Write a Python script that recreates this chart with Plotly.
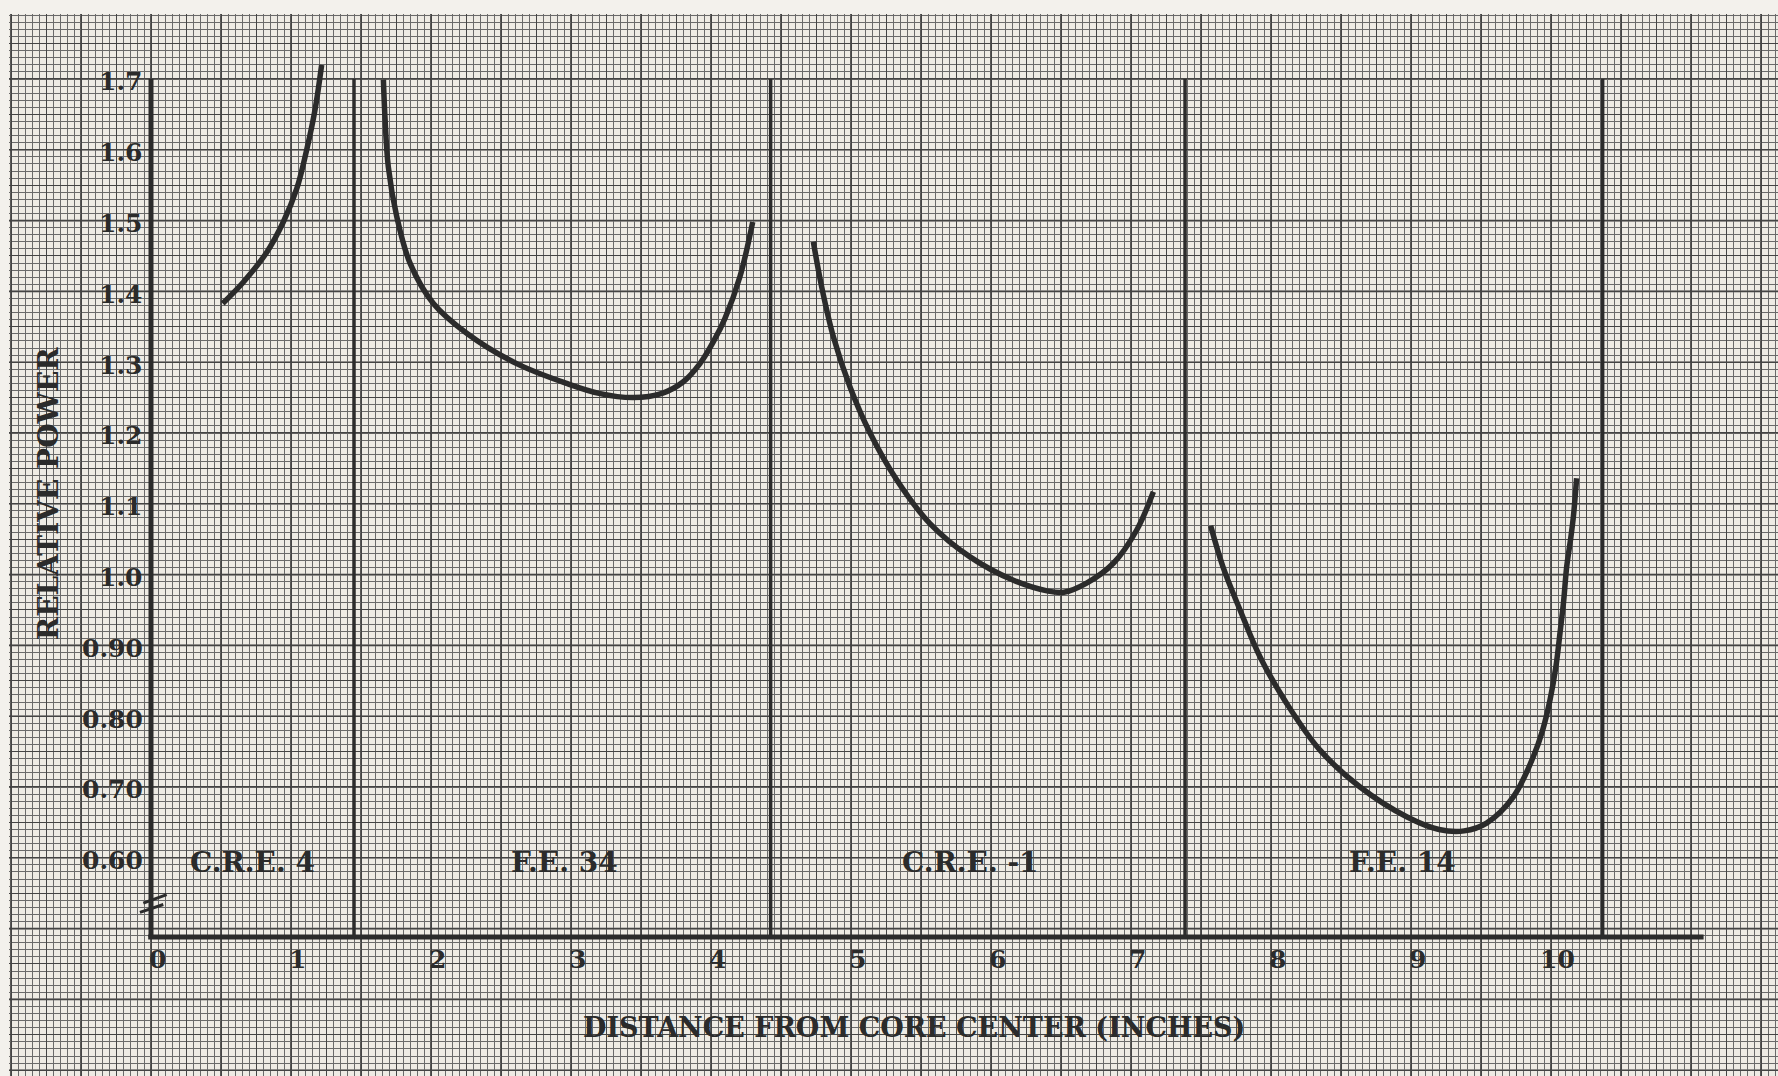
import numpy as np
import plotly.graph_objects as go

# ---------------- data ----------------
cre4_x = [0.512, 0.659, 0.826, 0.945, 1.041, 1.112, 1.171, 1.219]
cre4_y = [1.383, 1.413, 1.455, 1.498, 1.545, 1.600, 1.656, 1.720]

fe34_x = [1.660, 1.671, 1.695, 1.755, 1.850, 2.017, 2.255, 2.612, 2.969, 3.200, 3.445, 3.650, 3.800, 3.921, 4.020, 4.100, 4.207, 4.298]
fe34_y = [1.699, 1.647, 1.576, 1.506, 1.440, 1.383, 1.341, 1.298, 1.270, 1.256, 1.250, 1.256, 1.272, 1.298, 1.330, 1.362, 1.421, 1.498]

cre1_x = [4.731, 4.790, 4.874, 4.993, 5.136, 5.326, 5.564, 5.850, 6.160, 6.400, 6.520, 6.683, 6.874, 7.041, 7.160]
cre1_y = [1.470, 1.407, 1.336, 1.265, 1.200, 1.134, 1.072, 1.025, 0.992, 0.977, 0.975, 0.988, 1.016, 1.063, 1.117]

fe14_x = [7.569, 7.657, 7.779, 7.921, 8.112, 8.350, 8.636, 8.969, 9.200, 9.380, 9.540, 9.731, 9.874, 9.940, 9.993, 10.035, 10.064, 10.090, 10.112, 10.140, 10.160, 10.183]
fe14_y = [1.069, 1.011, 0.950, 0.884, 0.818, 0.752, 0.700, 0.658, 0.640, 0.638, 0.649, 0.686, 0.743, 0.780, 0.823, 0.870, 0.917, 0.962, 1.011, 1.050, 1.082, 1.136]

divider_x = [1.450, 4.426, 7.386, 10.369]

section_labels = ["C.R.E. 4", "F.E. 34", "C.R.E. -1", "F.E. 14"]
section_label_x = [0.725, 2.95, 5.85, 8.94]
section_label_y = 0.594

x_tick_vals = [0, 1, 2, 3, 4, 5, 6, 7, 8, 9, 10]
x_tick_text = ["0", "1", "2", "3", "4", "5", "6", "7", "8", "9", "10"]
y_tick_vals = [1.7, 1.6, 1.5, 1.4, 1.3, 1.2, 1.1, 1.0, 0.9, 0.8, 0.7, 0.6]
y_tick_text = ["1.7", "1.6", "1.5", "1.4", "1.3", "1.2", "1.1", "1.0", "0.90", "0.80", "0.70", "0.60"]

x_title = "DISTANCE FROM CORE CENTER (INCHES)"
y_title = "RELATIVE POWER"

axis_bottom = 0.488   # y value where the (broken) x-axis sits
axis_top = 1.7
x_axis_end = 11.09

# ---------------- styling ----------------
INK = "#2b2b2b"
PAPER = "#eeebe4"
FONT = "DejaVu Serif"

fig = go.Figure()

curve_style = dict(color=INK, width=5.5, shape="spline", smoothing=1.0)
for xs, ys, nm in [(cre4_x, cre4_y, "C.R.E. 4"), (fe34_x, fe34_y, "F.E. 34"),
                   (cre1_x, cre1_y, "C.R.E. -1"), (fe14_x, fe14_y, "F.E. 14")]:
    fig.add_trace(go.Scatter(x=xs, y=ys, mode="lines", line=curve_style,
                             name=nm, showlegend=False, hoverinfo="skip"))

shapes = []
# heavier graph-paper lines (every 0.5 in, every 0.1)
for gx in np.arange(-1.0, 11.75, 0.5):
    shapes.append(dict(type="line", xref="x", yref="paper", x0=gx, x1=gx, y0=0, y1=1,
                       line=dict(color="#333333", width=1.6), layer="below"))
for gy in np.arange(0.3, 1.85, 0.1):
    shapes.append(dict(type="line", xref="paper", yref="y", x0=0, x1=1, y0=gy, y1=gy,
                       line=dict(color="#333333", width=1.6), layer="below"))

# axes
shapes.append(dict(type="line", xref="x", yref="y", x0=0, x1=0, y0=axis_bottom, y1=axis_top,
                   line=dict(color=INK, width=5)))
shapes.append(dict(type="line", xref="x", yref="y", x0=-0.02, x1=x_axis_end, y0=axis_bottom, y1=axis_bottom,
                   line=dict(color=INK, width=5)))
# section dividers
for dx in divider_x:
    shapes.append(dict(type="line", xref="x", yref="y", x0=dx, x1=dx, y0=axis_bottom, y1=axis_top,
                       line=dict(color=INK, width=3.5)))
# axis break marks
shapes.append(dict(type="line", xref="x", yref="y", x0=-0.055, x1=0.112, y0=0.536, y1=0.548,
                   line=dict(color=INK, width=3)))
shapes.append(dict(type="line", xref="x", yref="y", x0=-0.079, x1=0.088, y0=0.523, y1=0.534,
                   line=dict(color=INK, width=3)))

annotations = []
tick_font = dict(family=FONT, size=25, color=INK, weight="bold")
for v, t in zip(y_tick_vals, y_tick_text):
    annotations.append(dict(x=-0.045, y=v, xref="x", yref="y", text=t, showarrow=False,
                            xanchor="right", yanchor="middle", yshift=-3, font=tick_font))
for v, t in zip(x_tick_vals, x_tick_text):
    annotations.append(dict(x=v, y=0.456, xref="x", yref="y", text=t, showarrow=False,
                            xanchor="center", yanchor="middle", xshift=6, font=tick_font))
lab_font = dict(family=FONT, size=28, color=INK, weight="bold")
for t, lx in zip(section_labels, section_label_x):
    annotations.append(dict(x=lx, y=section_label_y, xref="x", yref="y", text=t, showarrow=False,
                            xanchor="center", yanchor="middle", font=lab_font))
title_font = dict(family=FONT, size=27, color=INK, weight="bold")
annotations.append(dict(x=5.45, y=0.361, xref="x", yref="y", text=x_title, showarrow=False,
                        xanchor="center", yanchor="middle", font=title_font))
annotations.append(dict(x=-0.736, y=1.115, xref="x", yref="y", text=y_title, showarrow=False,
                        textangle=-90, xanchor="center", yanchor="middle",
                        font=dict(family=FONT, size=28, color=INK, weight="bold")))

fig.update_layout(
    width=1778, height=1076,
    margin=dict(l=9, r=0, t=14, b=0),
    paper_bgcolor="#f3f1ec",
    plot_bgcolor=PAPER,
    shapes=shapes,
    annotations=annotations,
    xaxis=dict(range=[-1.0143, 11.6214], dtick=0.25, tick0=0, showgrid=True,
               gridcolor="#444444", gridwidth=1.2, zeroline=False, showticklabels=False,
               ticks="", showline=False, fixedrange=True,
               minor=dict(dtick=0.05, tick0=0, showgrid=True, gridcolor="#6a6a6a", gridwidth=1)),
    yaxis=dict(range=[0.2918, 1.7918], dtick=0.05, tick0=0, showgrid=True,
               gridcolor="#444444", gridwidth=1.2, zeroline=False, showticklabels=False,
               ticks="", showline=False, fixedrange=True,
               minor=dict(dtick=0.01, tick0=0, showgrid=True, gridcolor="#6a6a6a", gridwidth=1)),
    showlegend=False,
)

fig.write_html("out.html")
